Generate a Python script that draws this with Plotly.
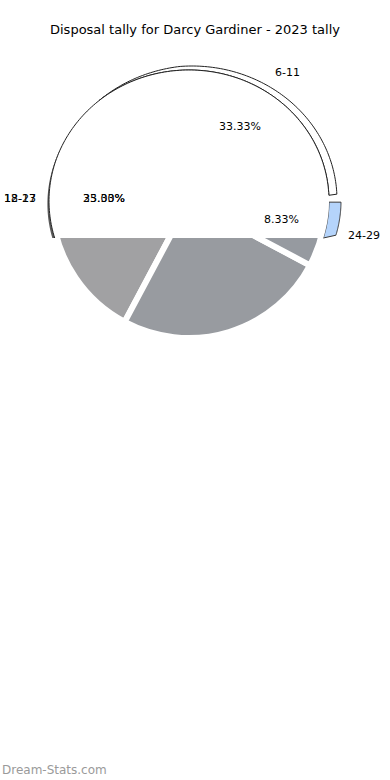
import numpy as np
import plotly.graph_objects as go

# ---------------- data ----------------
labels = ["6-11", "12-17", "18-23", "24-29"]
values = [4, 4, 3, 1]
slice_colors = ["#ffffff", "#a1a1a3", "#989ba0", "#969aa0"]
title_text = "Disposal tally for Darcy Gardiner - 2023 tally"
watermark = "Dream-Stats.com"

# ---------------- geometry (pixels) ----------------
W, H = 390, 780
CX, CY = 189, 201          # pie centre
R = 137                    # pie radius (domain half size)
RX, RY = 140, 131          # top face ellipse
CHORD_Y = 238              # flat cut of the top face
START = 88                 # end angle of first slice, clockwise from 12 o'clock

total = sum(values)
pcts = [f"{100 * v / total:.2f}%" for v in values]


def norm(a):
    return (a + 180.0) % 360.0 - 180.0


# slice angle ranges (counterclockwise from START)
cum = np.cumsum([0] + values) / total * 360.0
angles = [(norm(START - cum[i]), norm(START - cum[i + 1])) for i in range(len(values))]
# plotly: with counterclockwise direction the first slice ends at `rotation`
pie_rotation = START - values[0] / total * 360.0


def P(x, y):
    return x / W, 1 - y / H


def ell(cx, cy, rx, ry, th):
    t = np.radians(th)
    return cx + rx * np.sin(t), cy - ry * np.cos(t)


def arc_pts(cx, cy, rx, ry, a0, a1, n=80):
    return [ell(cx, cy, rx, ry, a) for a in np.linspace(a0, a1, n)]


def path_from(pts, close=True):
    s = ""
    for i, (x, y) in enumerate(pts):
        px, py = P(x, y)
        s += ("M" if i == 0 else "L") + f"{px:.5f},{py:.5f} "
    return s + ("Z" if close else "")


# angle where top-face ellipse meets the chord
chord_a = float(np.degrees(np.arccos(-(CHORD_Y - CY) / RY)))   # right side, ~106 deg

fig = go.Figure()

x0, y0 = P(CX - R, CY + R)
x1, y1 = P(CX + R, CY - R)
fig.add_trace(go.Pie(
    labels=labels,
    values=values,
    sort=False,
    direction="counterclockwise",
    rotation=pie_rotation,
    marker=dict(colors=slice_colors, line=dict(color="#ffffff", width=6)),
    textinfo="none",
    hoverinfo="label+percent",
    showlegend=False,
    domain=dict(x=[x0, x1], y=[y0, y1]),
))

shapes = []

# side band of the "24-29" slice (light blue), only above the chord
a_top = angles[3][1] + 2.5
outer_b = [ell(CX + 1, CY, RX + 11, RY + 2, a) for a in np.linspace(a_top, chord_a - 1.5, 40)]
inner_b = arc_pts(CX, CY, RX, RY, chord_a, a_top, 40)
shapes.append(dict(type="path", xref="paper", yref="paper", layer="above",
                   path=path_from(outer_b + inner_b), fillcolor="#b5d4fb",
                   line=dict(color="#3a3a3a", width=1)))

# side band of the "12-17" slice on the left (dark grey), tapering upward
ts = np.linspace(-chord_a, -62, 40)
outer_l = [ell(CX, CY, RX + 2.5 * (1 - (t + chord_a) / (chord_a - 62)), RY, t) for t in ts]
inner_l = arc_pts(CX, CY, RX, RY, -62, -chord_a, 40)
shapes.append(dict(type="path", xref="paper", yref="paper", layer="above",
                   path=path_from(outer_l + inner_l), fillcolor="#5a5a5a",
                   line=dict(width=0)))

# extruded "6-11" slice band (white with dark outline), tapering at its start
a0, a1 = angles[0][1] - 8, angles[0][0] - 0.5
ts = np.linspace(a0, a1, 120)
ramp = np.clip((ts - a0) / 35.0, 0, 1)
outer = [ell(CX + 3 * r, CY - 1 * r, RX + 5 * r, RY + 3 * r, t) for t, r in zip(ts, ramp)]
inner = arc_pts(CX, CY, RX, RY, a1, a0, 120)
shapes.append(dict(type="path", xref="paper", yref="paper", layer="above",
                   path=path_from(outer + inner), fillcolor="#ffffff",
                   line=dict(color="#222222", width=1)))

# white top face above the chord
cap = arc_pts(CX, CY, RX, RY, -chord_a, chord_a, 160)
shapes.append(dict(type="path", xref="paper", yref="paper", layer="above",
                   path=path_from(cap), fillcolor="#ffffff", line=dict(width=0)))
# its outline (open arc)
shapes.append(dict(type="path", xref="paper", yref="paper", layer="above",
                   path=path_from(arc_pts(CX, CY, RX, RY, -chord_a, a1, 160), close=False),
                   line=dict(color="#222222", width=1)))

fig.update_layout(shapes=shapes)

font = dict(family="DejaVu Sans", size=11, color="#000000")
ann = []


def add_text(txt, x, y, **kw):
    px, py = P(x, y)
    d = dict(text=txt, x=px, y=py, xref="paper", yref="paper", showarrow=False,
             font=font, xanchor="center", yanchor="middle")
    d.update(kw)
    ann.append(d)


# labels as they appear in the picture
add_text(labels[0], 287, 72)
add_text(pcts[0], 240, 127)
add_text(labels[1], 20, 198)
add_text(labels[2], 20, 198)
add_text(pcts[1], 104, 198)
add_text(pcts[2], 104, 198)
add_text(pcts[3], 281, 219)
add_text(labels[3], 364, 235)

# title and watermark
add_text(title_text, 195, 30, font=dict(family="DejaVu Sans", size=13, color="#000000"))
add_text(watermark, 0, 770, xanchor="left",
         font=dict(family="DejaVu Sans", size=12, color="#9a9a9a"))

fig.update_layout(
    annotations=ann,
    width=W, height=H,
    margin=dict(l=0, r=0, t=0, b=0),
    paper_bgcolor="#ffffff",
    plot_bgcolor="#ffffff",
)

fig.write_html("out.html")
